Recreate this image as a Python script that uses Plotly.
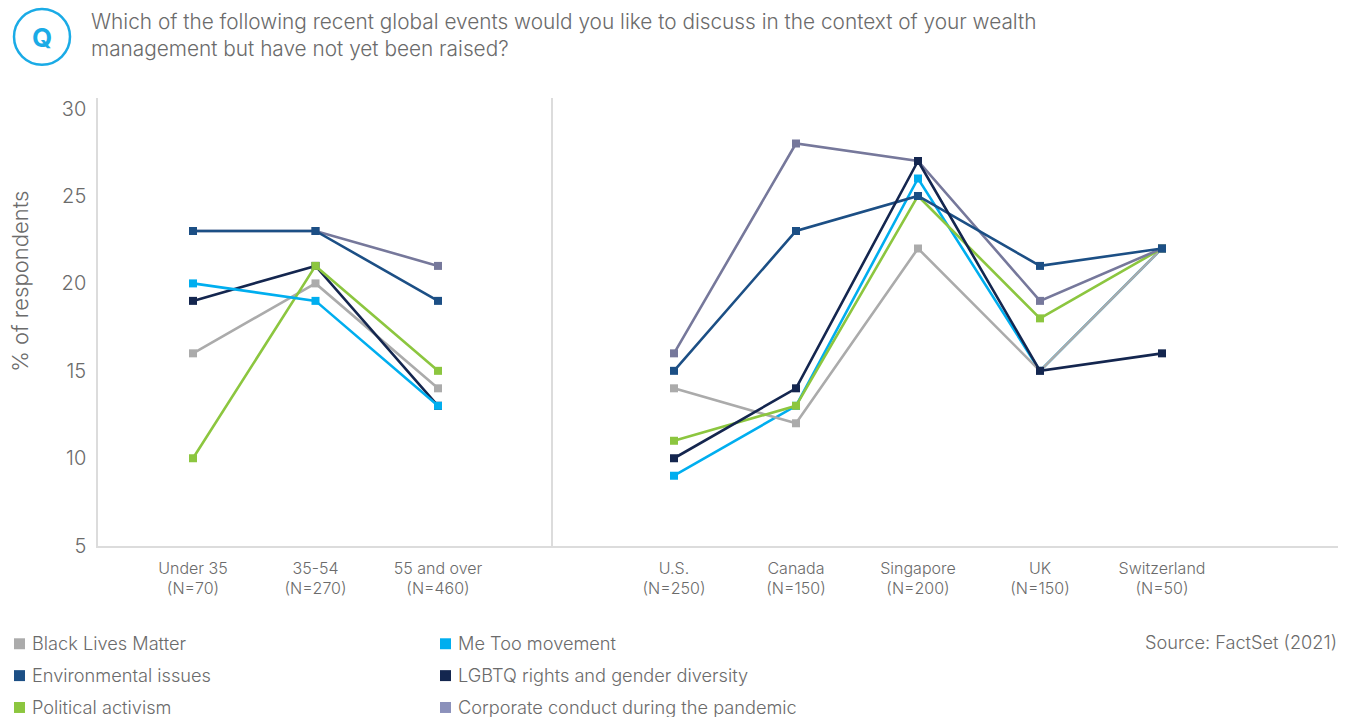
import plotly.graph_objects as go

# Categories
age_groups = ["Under 35<br>(N=70)", "35-54<br>(N=270)", "55 and over<br>(N=460)"]
countries = ["U.S.<br>(N=250)", "Canada<br>(N=150)", "Singapore<br>(N=200)",
             "UK<br>(N=150)", "Switzerland<br>(N=50)"]

# Series names
black_lives = "Black Lives Matter"
environmental = "Environmental issues"
political = "Political activism"
me_too = "Me Too movement"
lgbtq = "LGBTQ rights and gender diversity"
corporate = "Corporate conduct during the pandemic"

# Values (% of respondents) by age group
age_black_lives = [16, 20, 14]
age_environmental = [23, 23, 19]
age_political = [10, 21, 15]
age_me_too = [20, 19, 13]
age_lgbtq = [19, 21, 13]
age_corporate = [23, 23, 21]

# Values (% of respondents) by country
ctry_black_lives = [14, 12, 22, 15, 22]
ctry_environmental = [15, 23, 25, 21, 22]
ctry_political = [11, 13, 25, 18, 22]
ctry_me_too = [9, 13, 26, 15, 22]
ctry_lgbtq = [10, 14, 27, 15, 16]
ctry_corporate = [16, 28, 27, 19, 22]

y_ticks = [5, 10, 15, 20, 25, 30]

colors = {
    black_lives: "#ABABAB",
    environmental: "#1C4F85",
    political: "#8CC63F",
    me_too: "#00AEEF",
    lgbtq: "#14264F",
    corporate: "#76789B",
}
swatch_colors = dict(colors)
swatch_colors[corporate] = "#8B91BB"

W, H = 1354, 717
HP = 707  # rendered paper height used for placing items
FONT = "Inter"
TEXT = "#6b6b6b"
AXIS = "#dcdcdc"


def py(px):
    """Paper y fraction for a pixel row measured from the top."""
    return 1 - px / HP


def pxf(px):
    return px / W


fig = go.Figure()

age_series = [
    (black_lives, age_black_lives),
    (lgbtq, age_lgbtq),
    (political, age_political),
    (corporate, age_corporate),
    (environmental, age_environmental),
    (me_too, age_me_too),
]
ctry_series = [
    (me_too, ctry_me_too),
    (black_lives, ctry_black_lives),
    (political, ctry_political),
    (corporate, ctry_corporate),
    (environmental, ctry_environmental),
    (lgbtq, ctry_lgbtq),
]

for name, vals in age_series:
    fig.add_trace(go.Scatter(
        x=list(range(len(age_groups))), y=vals, name=name, mode="lines+markers",
        line=dict(color=colors[name], width=2.6),
        marker=dict(symbol="square", size=8, color=colors[name]),
        xaxis="x", yaxis="y", showlegend=False,
    ))
for name, vals in ctry_series:
    fig.add_trace(go.Scatter(
        x=list(range(len(countries))), y=vals, name=name, mode="lines+markers",
        line=dict(color=colors[name], width=2.6),
        marker=dict(symbol="square", size=8, color=colors[name]),
        xaxis="x2", yaxis="y2", showlegend=False,
    ))

# Plot geometry in pixels
left_x0, divider_x, right_x1 = 98, 553, 1338
top_y, bottom_y = 97, 547
y_range = [5, 5 + (bottom_y - top_y) / 17.56]
ydom = [py(bottom_y), py(top_y)]

tickfont_x = dict(size=16, color=TEXT, family=FONT)

fig.update_layout(
    width=W, height=H,
    margin=dict(l=0, r=0, t=0, b=0),
    paper_bgcolor="white", plot_bgcolor="white",
    font=dict(family=FONT, color=TEXT, weight=300),
    xaxis=dict(
        domain=[pxf(left_x0), pxf(divider_x)],
        range=[-95 / 122.5, 2 + (divider_x - 438) / 122.5],
        tickmode="array", tickvals=list(range(len(age_groups))), ticktext=age_groups,
        showgrid=False, zeroline=False, showline=True, linecolor=AXIS, linewidth=1.5,
        ticks="", tickfont=tickfont_x, ticklabelstandoff=7,
    ),
    xaxis2=dict(
        domain=[pxf(divider_x), pxf(right_x1)],
        range=[-121 / 122, 4 + (right_x1 - 1162) / 122],
        tickmode="array", tickvals=list(range(len(countries))), ticktext=countries,
        showgrid=False, zeroline=False, showline=True, linecolor=AXIS, linewidth=1.5,
        ticks="", tickfont=tickfont_x, ticklabelstandoff=7,
        anchor="y2",
    ),
    yaxis=dict(
        domain=ydom, range=y_range,
        tickmode="array", tickvals=y_ticks,
        showgrid=False, zeroline=False, showline=True, linecolor=AXIS, linewidth=1.5,
        ticks="", tickfont=dict(size=20, color=TEXT, family=FONT), ticklabelstandoff=6,
    ),
    yaxis2=dict(
        domain=ydom, range=y_range, anchor="x2",
        showgrid=False, zeroline=False, showline=True, linecolor=AXIS, linewidth=1.5,
        showticklabels=False, ticks="",
    ),
)

# Y-axis caption
fig.add_annotation(text="% of respondents", xref="paper", yref="paper",
                   x=pxf(20), y=py(282), textangle=-90, showarrow=False,
                   xanchor="center", yanchor="middle",
                   font=dict(family=FONT, size=22, color=TEXT))

# Question badge and heading
fig.add_shape(type="circle", xref="paper", yref="paper",
              x0=pxf(14), x1=pxf(70), y0=py(64), y1=py(8),
              line=dict(color="#1AABE6", width=2.5), fillcolor="white")
fig.add_annotation(text="<b>Q</b>", xref="paper", yref="paper",
                   x=pxf(42), y=py(37), showarrow=False,
                   font=dict(family=FONT, size=26, color="#1AABE6", weight=700),
                   xanchor="center", yanchor="middle")
fig.add_annotation(
    text="Which of the following recent global events would you like to discuss in the context of your wealth<br>"
         "management but have not yet been raised?",
    xref="paper", yref="paper", x=pxf(89), y=py(6),
    xanchor="left", yanchor="top", align="left", showarrow=False,
    font=dict(family=FONT, size=20.8, color=TEXT),
)

# Legend
legend_items = [black_lives, environmental, political, me_too, lgbtq, corporate]
col_x = [14, 440]
row_y = [645, 677, 709]
for i, name in enumerate(legend_items):
    cx = col_x[i // 3]
    cy = row_y[i % 3]
    fig.add_shape(type="rect", xref="paper", yref="paper",
                  x0=pxf(cx), x1=pxf(cx + 11),
                  y0=py(cy + 6), y1=py(cy - 5),
                  line=dict(width=0), fillcolor=swatch_colors[name])
    fig.add_annotation(text=name, xref="paper", yref="paper",
                       x=pxf(cx + 16), y=py(cy),
                       xanchor="left", yanchor="middle", showarrow=False,
                       font=dict(family=FONT, size=18.2, color=TEXT))

fig.add_annotation(text="Source: FactSet (2021)", xref="paper", yref="paper",
                   x=pxf(1339), y=py(644), xanchor="right", yanchor="middle",
                   showarrow=False, font=dict(family=FONT, size=18.2, color=TEXT))

fig.write_html("out.html")
